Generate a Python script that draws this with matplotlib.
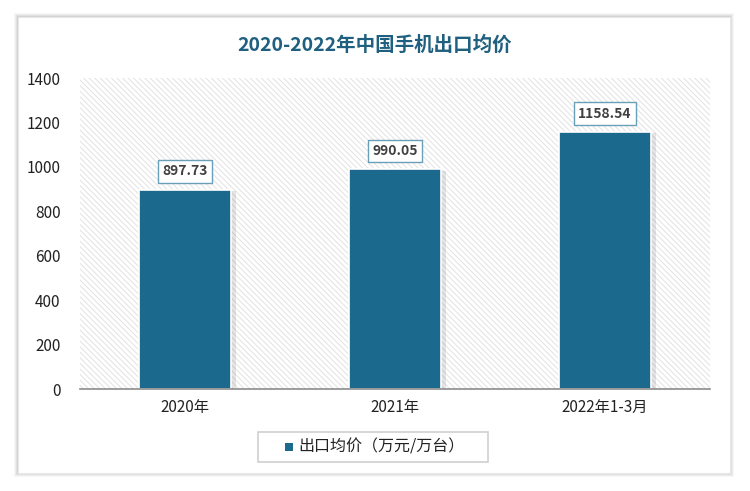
import matplotlib.pyplot as plt
from matplotlib.patches import Rectangle

plt.rcParams['font.family'] = ['Noto Sans CJK SC', 'DejaVu Sans']
plt.rcParams['hatch.color'] = '#e2e2e2'
plt.rcParams['hatch.linewidth'] = 0.7

# 数据
categories = ["2020年", "2021年", "2022年1-3月"]
values = [897.73, 990.05, 1158.54]
value_labels = ["897.73", "990.05", "1158.54"]
y_ticks = [0, 200, 400, 600, 800, 1000, 1200, 1400]
series_name = "出口均价（万元/万台）"
title = "2020-2022年中国手机出口均价"

bar_color = "#1b6a8e"

fig = plt.figure(figsize=(7.5, 4.91), dpi=100)
fig.patch.set_facecolor("white")

# 卡片阴影和背景
for i, a in enumerate([0.03, 0.04, 0.05, 0.06]):
    d = (4 - i) / 750
    fig.patches.append(Rectangle((18 / 750 - d, 18 / 491 - d * 1.5), 712 / 750 + 2 * d, 456 / 491 + 2 * d * 1.5,
                                 transform=fig.transFigure, facecolor="black", alpha=a,
                                 edgecolor="none", zorder=0))
fig.patches.append(Rectangle((18 / 750, 18 / 491), 712 / 750, 456 / 491, transform=fig.transFigure,
                             facecolor="white", edgecolor="#e8e8e8", linewidth=0.8, zorder=1))

ax = fig.add_axes([80 / 750, 102 / 491, 630 / 750, 311 / 491])
ax.set_zorder(2)
ax.patch.set_alpha(0)

# 斜线背景
ax.add_patch(Rectangle((0, 0), 1, 1, transform=ax.transAxes, facecolor="white",
                       hatch="\\" * 6, edgecolor="#e2e2e2", linewidth=0, zorder=0))

x = list(range(len(categories)))
# 柱子阴影
ax.bar([i + 0.025 for i in x], [v - 8 for v in values], width=0.44, color="#000000", alpha=0.1, zorder=1)
ax.bar(x, values, width=0.44, color=bar_color, edgecolor="white", linewidth=1.2, zorder=2)

for i, v in enumerate(values):
    ax.annotate(value_labels[i], (i, v), xytext=(0, 8), textcoords="offset points",
                ha="center", va="bottom", fontsize=10, color="#404040", fontweight="bold",
                bbox=dict(boxstyle="square,pad=0.3", facecolor="white", edgecolor="#6a9fb8", linewidth=1),
                zorder=5)

ax.set_xlim(-0.5, 2.5)
ax.set_ylim(0, 1400)
ax.set_yticks(y_ticks)
ax.set_yticklabels([str(t) for t in y_ticks], fontsize=11, color="#222222")
ax.set_xticks(x)
ax.set_xticklabels(categories, fontsize=11, color="#222222")
ax.tick_params(axis="both", length=0, pad=7)
ax.tick_params(axis="y", pad=14)
for s in ["top", "right", "left"]:
    ax.spines[s].set_visible(False)
ax.spines["bottom"].set_color("#8c8c8c")
ax.spines["bottom"].set_linewidth(1.2)

fig.text(0.5, 1 - 45 / 491, title, ha="center", va="center", fontsize=14,
         fontweight="bold", color="#1f5f7f")

# 图例（手动画框）
fig.patches.append(Rectangle((258 / 750, 1 - 462 / 491), 230 / 750, 30 / 491, transform=fig.transFigure,
                             facecolor="white", edgecolor="#d0d0d0", linewidth=1.2, zorder=3))
fig.patches.append(Rectangle((285 / 750, 1 - 451 / 491), 8 / 750, 8 / 491, transform=fig.transFigure,
                             facecolor=bar_color, edgecolor="none", zorder=4))
fig.text(298 / 750, 1 - 447 / 491, series_name, ha="left", va="center", fontsize=11.5,
         color="#222222", zorder=5)

fig.savefig("out.png", dpi=100, facecolor="white")
